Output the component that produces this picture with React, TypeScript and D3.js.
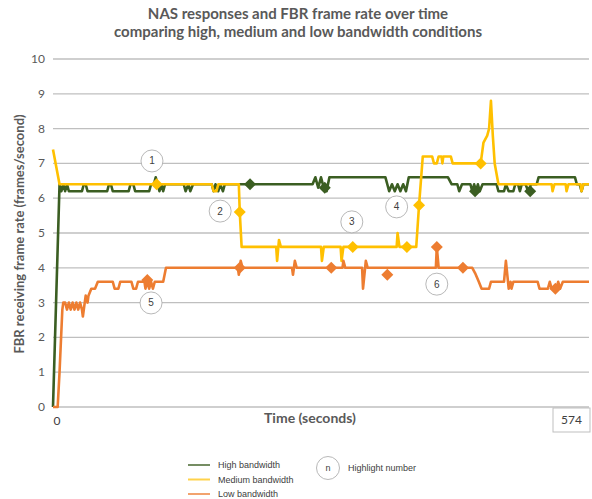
import * as d3 from 'd3';

// [seconds, frames/second]
const highBandwidth: [number, number][] = [
  [0, 0], [7, 6.4], [9, 6.2], [11, 6.4], [13, 6.2], [15, 6.4], [17, 6.2], [31, 6.2], [33, 6.4],
  [35, 6.4], [37, 6.2], [58, 6.2], [60, 6.4], [62, 6.4], [64, 6.2], [81, 6.2], [83, 6.4], [86, 6.4],
  [88, 6.2], [103, 6.2], [105, 6.4], [108, 6.4], [110, 6.6], [112, 6.4], [114, 6.2], [116, 6.4],
  [118, 6.2], [120, 6.4], [140, 6.4], [142, 6.2], [145, 6.4], [147, 6.2], [150, 6.4], [170, 6.4],
  [172, 6.2], [174, 6.4], [177, 6.2], [179, 6.4], [182, 6.2], [184, 6.4], [278, 6.4], [281, 6.6],
  [284, 6.3], [287, 6.6], [290, 6.3], [293, 6.2], [296, 6.6], [356, 6.6], [358, 6.4], [360, 6.2],
  [363, 6.4], [366, 6.2], [369, 6.4], [372, 6.2], [375, 6.4], [378, 6.2], [381, 6.6], [423, 6.6],
  [427, 6.4], [433, 6.4], [435, 6.2], [438, 6.4], [447, 6.4], [449, 6.2], [451, 6.4], [453, 6.2],
  [455, 6.4], [457, 6.2], [460, 6.4], [475, 6.4], [477, 6.2], [483, 6.2], [485, 6.4], [488, 6.2],
  [493, 6.2], [495, 6.4], [498, 6.4], [500, 6.2], [502, 6.4], [506, 6.4], [509, 6.2], [512, 6.4],
  [518, 6.4], [520, 6.6], [559, 6.6], [561, 6.4], [564, 6.4], [566, 6.2], [568, 6.4], [574, 6.4],
];

const mediumBandwidth: [number, number][] = [
  [0, 7.4], [7, 6.4], [170, 6.4], [172, 6.2], [175, 6.2], [177, 6.4], [199, 6.4], [200, 5.6],
  [202, 4.6], [239, 4.6], [240, 4.2], [242, 4.8], [244, 4.6], [287, 4.6], [288, 4.2], [290, 4.6],
  [308, 4.6], [309, 4.2], [311, 4.6], [368, 4.6], [369, 5.0], [371, 4.6], [389, 4.6], [392, 5.8],
  [396, 7.2], [406, 7.2], [408, 7.0], [411, 7.0], [413, 7.2], [416, 7.2], [417, 7.0], [418, 7.2],
  [426, 7.2], [428, 7.0], [458, 7.0], [461, 7.6], [465, 7.8], [467, 8.0], [469, 8.8], [471, 7.8],
  [473, 7.0], [477, 6.4], [534, 6.4], [535, 6.2], [537, 6.4], [549, 6.4], [550, 6.2], [552, 6.4],
  [565, 6.4], [566, 6.2], [568, 6.4], [574, 6.4],
];

const lowBandwidth: [number, number][] = [
  [0, 0], [5, 0], [7, 1], [10, 2.8], [11, 3.0], [13, 3.0], [15, 2.8], [17, 3.0], [19, 2.8],
  [21, 3.0], [23, 2.8], [25, 3.0], [27, 2.8], [29, 3.0], [31, 2.8], [32, 2.6], [35, 3.2], [37, 3.0],
  [38, 3.2], [41, 3.4], [45, 3.4], [48, 3.6], [64, 3.6], [66, 3.4], [70, 3.4], [72, 3.6], [84, 3.6],
  [86, 3.4], [89, 3.4], [91, 3.6], [98, 3.6], [99, 3.4], [101, 3.6], [103, 3.4], [105, 3.6],
  [107, 3.4], [109, 3.6], [118, 3.6], [121, 4.0], [198, 4.0], [199, 3.8], [201, 4.2], [203, 4.0],
  [256, 4.0], [257, 3.8], [259, 4.2], [261, 4.0], [310, 4.0], [311, 4.2], [313, 4.0], [331, 4.0],
  [332, 3.4], [335, 4.2], [337, 4.0], [410, 4.0], [411, 4.6], [413, 4.0], [449, 4.0], [452, 3.85],
  [456, 3.6], [459, 3.4], [467, 3.4], [469, 3.6], [483, 3.6], [485, 4.2], [488, 3.4], [490, 3.6],
  [491, 3.4], [493, 3.6], [519, 3.6], [521, 3.4], [530, 3.4], [532, 3.6], [534, 3.4], [539, 3.4],
  [541, 3.6], [543, 3.4], [546, 3.6], [574, 3.6],
];

const highMarkers: [number, number][] = [[211, 6.4], [291, 6.3], [452, 6.2], [511, 6.2]];
const mediumMarkers: [number, number][] = [[111, 6.4], [200, 5.6], [321, 4.6], [379, 4.6], [392, 5.8], [458, 7.0]];
const lowMarkers: [number, number][] = [[101, 3.65], [200, 4.0], [298, 4.0], [358, 3.8], [411, 4.6], [439, 4.0], [538, 3.4]];

// highlight number callouts: [label, seconds, value]
const highlights: [string, number, number][] = [
  ['1', 106, 7.07], ['2', 179, 5.63], ['3', 320, 5.32], ['4', 368, 5.75], ['5', 105, 2.99], ['6', 411, 3.53],
];

const yTicks = [0, 1, 2, 3, 4, 5, 6, 7, 8, 9, 10];
const titleLines = ['NAS responses and FBR frame rate over time', 'comparing high, medium and low bandwidth conditions'];
const seriesNames = ['High bandwidth', 'Medium bandwidth', 'Low bandwidth'];
const colors = ['#3b5e22', '#ffc000', '#ed7d31'];

export default function App() {
  const width = 592;
  const height = 499;
  const x = d3.scaleLinear().domain([0, 574]).range([53, 589]);
  const y = d3.scaleLinear().domain([0, 10]).range([407, 59]);
  const line = d3.line<[number, number]>().x((d) => x(d[0])).y((d) => y(d[1]));
  const series = [highBandwidth, mediumBandwidth, lowBandwidth];
  const markers = [highMarkers, mediumMarkers, lowMarkers];
  const diamond = (cx: number, cy: number, r = 6) =>
    `M${cx},${cy - r}L${cx + r},${cy}L${cx},${cy + r}L${cx - r},${cy}Z`;

  return (
    <svg width={width} height={height} style={{ position: 'absolute', left: 0, top: 0 }}>
      <rect width={width} height={height} fill="#fff" />
      {titleLines.map((t, i) => (
        <text key={i} x={298} y={19 + i * 18} textAnchor="middle" fontFamily="Lato" fontWeight="bold" fontSize={15} fill="#595959">
          {t}
        </text>
      ))}
      {yTicks.map((t) => (
        <g key={t}>
          <line x1={53} x2={589} y1={y(t)} y2={y(t)} stroke="#bfbfbf" strokeWidth={1.3} />
          <text x={45} y={y(t) + 4} textAnchor="end" fontFamily="Lato" fontSize={12} fill="#595959">{t}</text>
        </g>
      ))}
      <text transform={`translate(24,234) rotate(-90)`} textAnchor="middle" fontFamily="Lato" fontWeight="bold" fontSize={13} fill="#595959">
        FBR receiving frame rate (frames/second)
      </text>
      <text x={57} y={425} textAnchor="middle" fontFamily="Lato" fontSize={12} fill="#404040">0</text>
      <text x={310} y={423} textAnchor="middle" fontFamily="Lato" fontWeight="bold" fontSize={14} fill="#595959">Time (seconds)</text>
      <rect x={553} y={408} width={37} height={24} fill="#fff" stroke="#bfbfbf" />
      <text x={571.5} y={424} textAnchor="middle" fontFamily="Lato" fontSize={12} fill="#404040">574</text>

      {series.map((s, i) => (
        <path key={i} d={line(s) || ''} fill="none" stroke={colors[i]} strokeWidth={2.6} strokeLinejoin="round" />
      ))}
      {markers.map((m, i) =>
        m.map((d, j) => <path key={`${i}-${j}`} d={diamond(x(d[0]), y(d[1]))} fill={colors[i]} />),
      )}
      {highlights.map(([label, t, v]) => (
        <g key={label}>
          <circle cx={x(t)} cy={y(v)} r={11} fill="#fff" stroke="#a6a6a6" strokeWidth={0.8} />
          <text x={x(t)} y={y(v) + 3.5} textAnchor="middle" fontFamily="Liberation Sans" fontSize={10} fill="#404040">{label}</text>
        </g>
      ))}

      {seriesNames.map((n, i) => (
        <g key={n}>
          <line x1={188} x2={210} y1={465 + i * 14.5} y2={465 + i * 14.5} stroke={colors[i]} strokeWidth={2} opacity={0.7} />
          <text x={218} y={468 + i * 14.5} fontFamily="Liberation Sans" fontSize={9} fill="#404040">{n}</text>
        </g>
      ))}
      <circle cx={328} cy={468} r={11.5} fill="#fff" stroke="#a6a6a6" strokeWidth={0.8} />
      <text x={328} y={471} textAnchor="middle" fontFamily="Liberation Sans" fontSize={9} fill="#404040">n</text>
      <text x={348} y={471} fontFamily="Liberation Sans" fontSize={9} fill="#404040">Highlight number</text>
    </svg>
  );
}
